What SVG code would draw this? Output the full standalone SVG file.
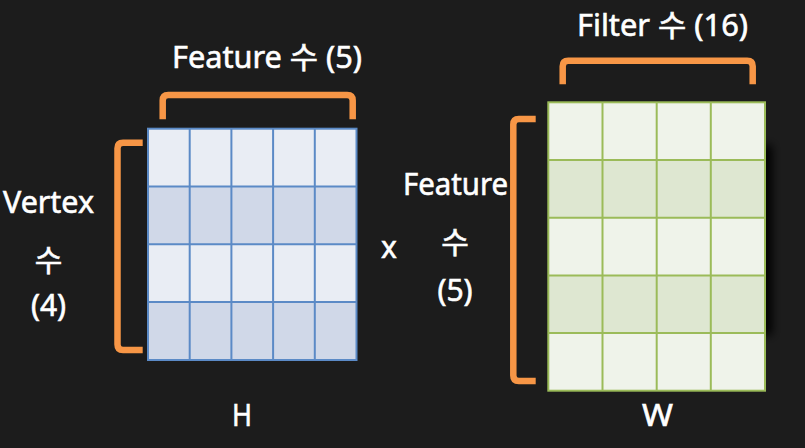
<svg xmlns="http://www.w3.org/2000/svg" width="805" height="448" viewBox="0 0 805 448">
<style>
.t{font-family:"Noto Sans","Noto Sans CJK KR",sans-serif;font-size:30px;fill:#ffffff;stroke:#ffffff;stroke-width:0.6}
.br{fill:none;stroke:#f79646;stroke-width:6.5;stroke-linecap:butt;stroke-linejoin:round}
.hg{stroke:#5b8ac6;stroke-width:2}
.wg{stroke:#9bbb59;stroke-width:2}
</style>
<defs>
<filter id="sh" x="-50%" y="-50%" width="200%" height="200%"><feGaussianBlur stdDeviation="5"/></filter>
</defs>
<rect width="805" height="448" fill="#1c1c1c"/>

<g id="H">
<rect x="148" y="128.7" width="208.5" height="57.8" fill="#e9edf4"/>
<rect x="148" y="186.5" width="208.5" height="57.8" fill="#d0d8e8"/>
<rect x="148" y="244.3" width="208.5" height="57.8" fill="#e9edf4"/>
<rect x="148" y="302.1" width="208.5" height="57.9" fill="#d0d8e8"/>
<g class="hg">
<line x1="189.7" y1="128.7" x2="189.7" y2="360"/>
<line x1="231.4" y1="128.7" x2="231.4" y2="360"/>
<line x1="273.1" y1="128.7" x2="273.1" y2="360"/>
<line x1="314.8" y1="128.7" x2="314.8" y2="360"/>
<line x1="148" y1="186.5" x2="356.5" y2="186.5"/>
<line x1="148" y1="244.3" x2="356.5" y2="244.3"/>
<line x1="148" y1="302.1" x2="356.5" y2="302.1"/>
<rect x="148" y="128.7" width="208.5" height="231.3" fill="none"/>
</g>
<text class="t" x="232" y="426" textLength="20" lengthAdjust="spacingAndGlyphs">H</text>
</g>

<g id="W">
<rect x="740" y="145" width="32" height="190" fill="#000" filter="url(#sh)"/>
<rect x="548.3" y="102.3" width="216.7" height="57.7" fill="#eff3ea"/>
<rect x="548.3" y="160" width="216.7" height="57.7" fill="#dee7d1"/>
<rect x="548.3" y="217.7" width="216.7" height="57.7" fill="#eff3ea"/>
<rect x="548.3" y="275.4" width="216.7" height="57.7" fill="#dee7d1"/>
<rect x="548.3" y="333.1" width="216.7" height="57.6" fill="#eff3ea"/>
<g class="wg">
<line x1="602.5" y1="102.3" x2="602.5" y2="390.7"/>
<line x1="656.7" y1="102.3" x2="656.7" y2="390.7"/>
<line x1="710.8" y1="102.3" x2="710.8" y2="390.7"/>
<line x1="548.3" y1="160" x2="765" y2="160"/>
<line x1="548.3" y1="217.7" x2="765" y2="217.7"/>
<line x1="548.3" y1="275.4" x2="765" y2="275.4"/>
<line x1="548.3" y1="333.1" x2="765" y2="333.1"/>
<rect x="548.3" y="102.3" width="216.7" height="288.4" fill="none"/>
</g>
<text class="t" x="642" y="426" textLength="31" lengthAdjust="spacingAndGlyphs">W</text>
</g>

<g id="h-feature-label">
<path class="br" d="M162.7,119.3 V100.5 Q162.7,95 168.2,95 H347.2 Q352.7,95 352.7,100.5 V119.3"/>
<text class="t" x="172" y="68" textLength="190" lengthAdjust="spacingAndGlyphs">Feature 수 (5)</text>
</g>

<g id="h-vertex-label">
<path class="br" d="M142.7,142.7 H123 Q117.5,142.7 117.5,148.2 V344.5 Q117.5,350 123,350 H142.7"/>
<text class="t" x="3" y="213" textLength="91" lengthAdjust="spacingAndGlyphs">Vertex</text>
<text class="t" x="48.5" y="271" text-anchor="middle">수</text>
<text class="t" x="48.5" y="316" text-anchor="middle">(4)</text>
</g>

<g id="w-filter-label">
<path class="br" d="M562.7,84.3 V66.2 Q562.7,60.7 568.2,60.7 H747.2 Q752.7,60.7 752.7,66.2 V84.3"/>
<text class="t" x="577" y="36" textLength="171" lengthAdjust="spacingAndGlyphs">Filter 수 (16)</text>
</g>

<g id="w-feature-label">
<path class="br" d="M535.7,119 H518.8 Q513.3,119 513.3,124.5 V375.5 Q513.3,381 518.8,381 H535.7"/>
<text class="t" x="403" y="195" textLength="105" lengthAdjust="spacingAndGlyphs">Feature</text>
<text class="t" x="455" y="253" text-anchor="middle">수</text>
<text class="t" x="455" y="301" text-anchor="middle">(5)</text>
</g>

<g id="op">
<text class="t" x="381" y="258">x</text>
</g>
</svg>
